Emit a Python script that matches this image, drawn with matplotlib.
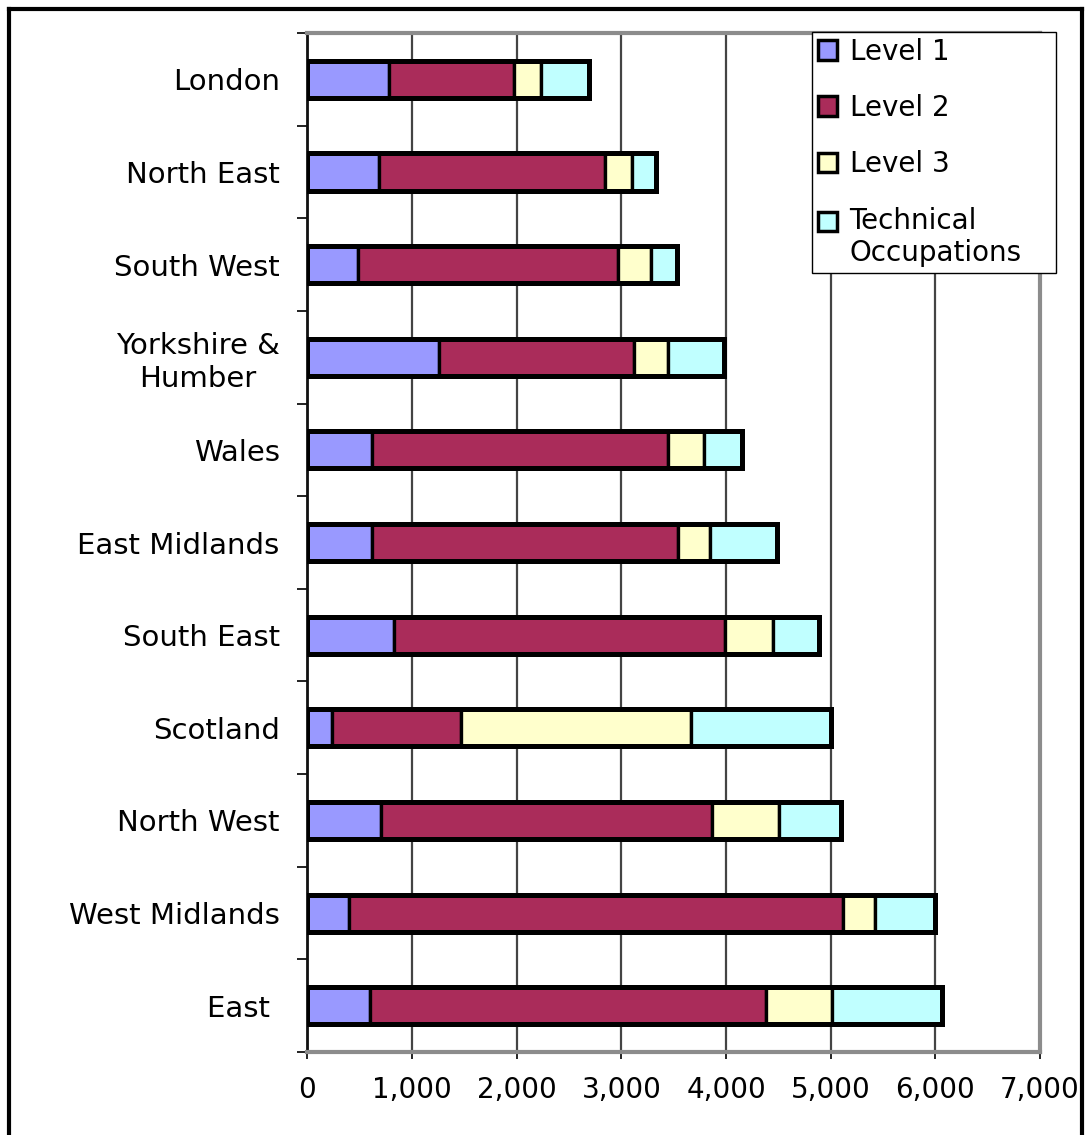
import matplotlib.pyplot as plt
import numpy as np
from matplotlib.lines import Line2D

# Regions listed bottom to top
regions = ['East ', 'West Midlands', 'North West', 'Scotland', 'South East',
           'East Midlands', 'Wales', 'Yorkshire &\nHumber', 'South West',
           'North East', 'London']
level1 = [600, 400, 700, 230, 830, 620, 620, 1260, 480, 680, 780]
level2 = [3780, 4720, 3170, 1240, 3160, 2920, 2830, 1860, 2490, 2160, 1190]
level3 = [630, 300, 640, 2200, 460, 310, 340, 330, 310, 260, 260]
technical = [1050, 580, 590, 1330, 440, 640, 360, 530, 250, 230, 460]

series = [
    ('Level 1', level1, '#9999FF'),
    ('Level 2', level2, '#AA2C5A'),
    ('Level 3', level3, '#FFFFCC'),
    ('Technical\nOccupations', technical, '#C0FFFF'),
]
xticks = [0, 1000, 2000, 3000, 4000, 5000, 6000, 7000]

plt.rcParams['font.family'] = ['DejaVu Sans']

fig = plt.figure(figsize=(10.86, 11.35), dpi=100, facecolor='white')
ax = fig.add_axes([0.2831, 0.0731, 0.9576 - 0.2831, 0.9709 - 0.0731])

y = np.arange(len(regions))
bar_h = 0.40
left = np.zeros(len(regions))
for name, vals, col in series:
    vals = np.asarray(vals, dtype=float)
    ax.barh(y, vals, left=left, height=bar_h, color=col, edgecolor='black',
            linewidth=2.4, label=name, zorder=3)
    left += vals
# heavier outline round each whole bar
ax.barh(y, left, height=bar_h, fill=False, edgecolor='black', linewidth=3.6, zorder=4)

ax.set_xlim(0, 7000)
ax.set_ylim(-0.5, len(regions) - 0.5)
ax.set_xticks(xticks)
ax.set_xticklabels([f'{v:,}' for v in xticks])
ax.set_yticks(y)
ax.set_yticklabels(regions)
ax.set_yticks(np.arange(-0.5, len(regions), 1.0), minor=True)
for lab in ax.get_yticklabels():
    lab.set_multialignment('center')

ax.tick_params(axis='y', which='major', length=0, pad=20, labelsize=21)
ax.tick_params(axis='y', which='minor', length=7, width=1.3, color='#111111', direction='out')
ax.tick_params(axis='x', length=5, width=1.3, color='#111111', direction='out', pad=12, labelsize=20)

ax.grid(axis='x', color='#444444', linewidth=1.6, zorder=0)
ax.set_axisbelow(True)
for side in ('top', 'right', 'bottom'):
    ax.spines[side].set_color('#8C8C8C')
    ax.spines[side].set_linewidth(3)
ax.spines['left'].set_color('#111111')
ax.spines['left'].set_linewidth(2)

leg = fig.legend(loc='upper left', bbox_to_anchor=(0.7477, 0.7639, 0.2247, 0.2079),
                 mode='expand', bbox_transform=fig.transFigure, borderaxespad=0,
                 fontsize=20, frameon=True, fancybox=False, framealpha=1,
                 edgecolor='black', handlelength=0.7, handleheight=0.7,
                 handletextpad=0.45, labelspacing=1.02, borderpad=0.2)
leg.get_frame().set_linewidth(1.0)
for h in leg.legend_handles:
    h.set_linewidth(2.5)
# square for the two-line entry sits level with its first line
last = leg.legend_handles[-1]
last.set_y(last.get_y() + 12)

# outer frame round the chart
lw = 3
fig.add_artist(Line2D([0.0083, 0.0083], [-0.01, 0.9921], transform=fig.transFigure,
                      color='black', linewidth=lw))
fig.add_artist(Line2D([0.0083, 0.9963], [0.9921, 0.9921], transform=fig.transFigure,
                      color='black', linewidth=lw))
fig.add_artist(Line2D([0.9963, 0.9963], [-0.01, 0.9921], transform=fig.transFigure,
                      color='black', linewidth=lw))

fig.savefig('out.png', dpi=100)
